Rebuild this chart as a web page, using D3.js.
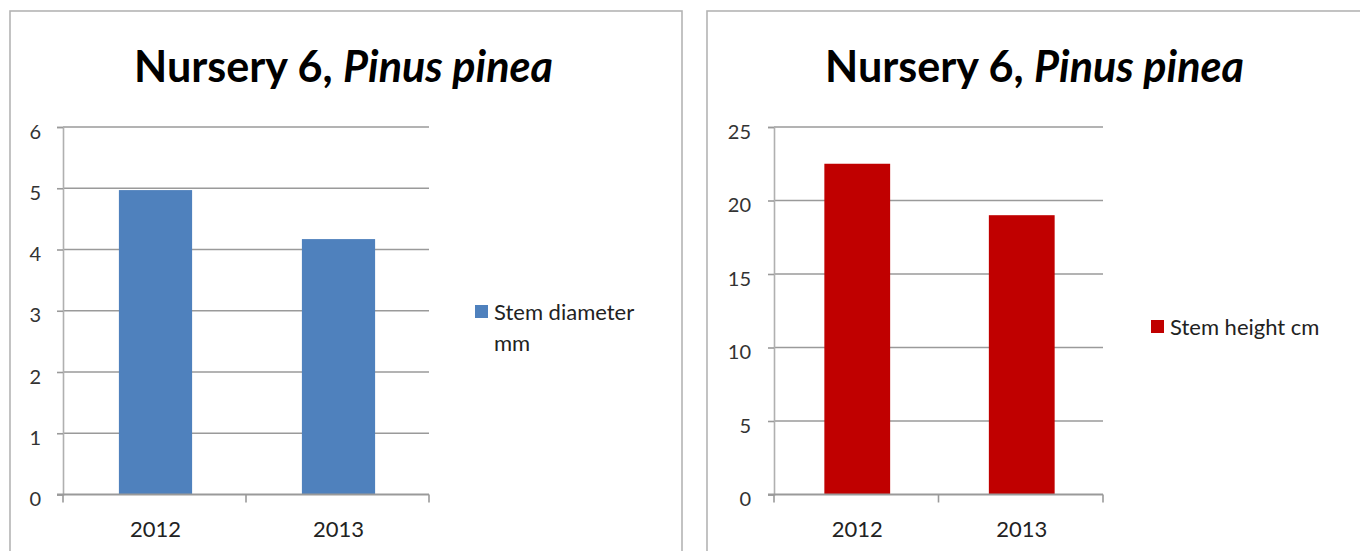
<!DOCTYPE html>
<html>
<head>
<meta charset="utf-8">
<script src="https://cdn.jsdelivr.net/npm/d3@7"></script>
<style>
  html, body { margin: 0; padding: 0; background: #ffffff; }
  svg { display: block; }
  text { font-family: Lato, "Open Sans", sans-serif; }
</style>
</head>
<body>
<svg id="chart" width="1360" height="551"></svg>
<script>
// Seedling measurements, Nursery 6 (Pinus pinea)
const years = ["2012", "2013"];
const diameterValues = [4.97, 4.17];   // stem diameter, mm
const heightValues = [22.5, 19.0];     // stem height, cm
const diameterTicks = [0, 1, 2, 3, 4, 5, 6];
const heightTicks = [0, 5, 10, 15, 20, 25];
const diameterLegend = ["Stem diameter", "mm"];
const heightLegend = ["Stem height cm"];

const svg = d3.select("#chart");

// Font size at which a text element spans the requested width.
function sizeForWidth(sel, width) {
  sel.style("font-size", "100px");
  const w = sel.node().getComputedTextLength();
  return 100 * width / w;
}

// Legend text size shared by both panels, derived from the longer entry.
const probe = svg.append("text").text(heightLegend[0]);
const legendSize = Math.min(sizeForWidth(probe, 150), 22);
probe.remove();

function drawPanel(cfg) {
  const g = svg.append("g");

  // chart area frame
  g.append("rect")
    .attr("x", cfg.frame.x).attr("y", cfg.frame.y)
    .attr("width", cfg.frame.w).attr("height", 600)
    .attr("fill", "#fff")
    .attr("stroke", "#b4b4b4").attr("stroke-width", 1.6);

  // title
  const title = g.append("text")
    .attr("x", cfg.titleX).attr("y", 82)
    .attr("text-anchor", "middle")
    .attr("fill", "#000")
    .style("font-weight", "bold");
  title.append("tspan").text("Nursery 6, ");
  title.append("tspan").style("font-style", "italic").text("Pinus pinea");
  title.style("font-size", sizeForWidth(title, 419).toFixed(2) + "px");

  const x = d3.scaleBand().domain(years).range([cfg.x0, cfg.x1]).padding(0);
  const y = d3.scaleLinear().domain([0, d3.max(cfg.ticks)]).range([494.5, 127]);

  // horizontal gridlines
  g.append("g").selectAll("line")
    .data(cfg.ticks.filter(t => t > 0))
    .join("line")
    .attr("x1", cfg.x0).attr("x2", cfg.x1)
    .attr("y1", d => y(d)).attr("y2", d => y(d))
    .attr("stroke", "#9a9a9a").attr("stroke-width", 1.6);

  // y axis
  const yAxis = g.append("g")
    .attr("transform", `translate(${cfg.x0},0)`)
    .call(d3.axisLeft(y).tickValues(cfg.ticks).tickSize(6).tickPadding(0).tickFormat(d3.format("d")));
  yAxis.select(".domain").attr("stroke", "#b0b0b0").attr("stroke-width", 1.6);
  yAxis.selectAll(".tick line").attr("stroke", "#9a9a9a").attr("stroke-width", 1.6);
  yAxis.selectAll(".tick text")
    .attr("x", cfg.labelRight - cfg.x0)
    .attr("dy", "0.55em")
    .attr("fill", "#333")
    .style("font-family", "Lato, sans-serif")
    .style("font-size", "20px");

  // bars
  const barW = x.bandwidth() * 0.40;
  g.append("g").selectAll("rect")
    .data(cfg.values)
    .join("rect")
    .attr("x", (d, i) => x(years[i]) + x.bandwidth() / 2 - barW / 2 + 1)
    .attr("y", d => y(d))
    .attr("width", barW)
    .attr("height", d => y(0) - y(d))
    .attr("fill", cfg.color);

  // x axis with boundary ticks
  const xAxis = g.append("g").attr("transform", `translate(0,${y(0)})`);
  xAxis.append("line")
    .attr("x1", cfg.x0 - 6).attr("x2", cfg.x1)
    .attr("stroke", "#9a9a9a").attr("stroke-width", 2);
  xAxis.selectAll("line.b")
    .data([cfg.x0, cfg.x0 + x.bandwidth(), cfg.x1])
    .join("line").attr("class", "b")
    .attr("x1", d => d).attr("x2", d => d)
    .attr("y1", 0).attr("y2", 8)
    .attr("stroke", "#9a9a9a").attr("stroke-width", 1.6);
  xAxis.selectAll("text")
    .data(years)
    .join("text")
    .attr("x", d => x(d) + x.bandwidth() / 2 + 1)
    .attr("y", 42)
    .attr("text-anchor", "middle")
    .attr("fill", "#222")
    .style("font-size", "22px")
    .text(d => d);

  // legend
  g.append("rect")
    .attr("x", cfg.legend.x).attr("y", cfg.legend.y)
    .attr("width", 13).attr("height", 13)
    .attr("fill", cfg.color);
  cfg.legendLines.forEach((line, i) => {
    g.append("text")
      .attr("x", cfg.legend.x + 19)
      .attr("y", cfg.legend.y + 15 + i * 31)
      .attr("fill", "#222")
      .style("font-size", legendSize.toFixed(2) + "px")
      .text(line);
  });
}

drawPanel({
  frame: { x: 10, y: 11, w: 672 },
  titleX: 343.5,
  x0: 63, x1: 429, labelRight: 41,
  ticks: diameterTicks,
  values: diameterValues,
  color: "#4f81bd",
  legend: { x: 475, y: 305 },
  legendLines: diameterLegend
});

drawPanel({
  frame: { x: 707, y: 11, w: 700 },
  titleX: 1034.5,
  x0: 774, x1: 1103, labelRight: 751,
  ticks: heightTicks,
  values: heightValues,
  color: "#c00000",
  legend: { x: 1151, y: 320 },
  legendLines: heightLegend
});
</script>
</body>
</html>
